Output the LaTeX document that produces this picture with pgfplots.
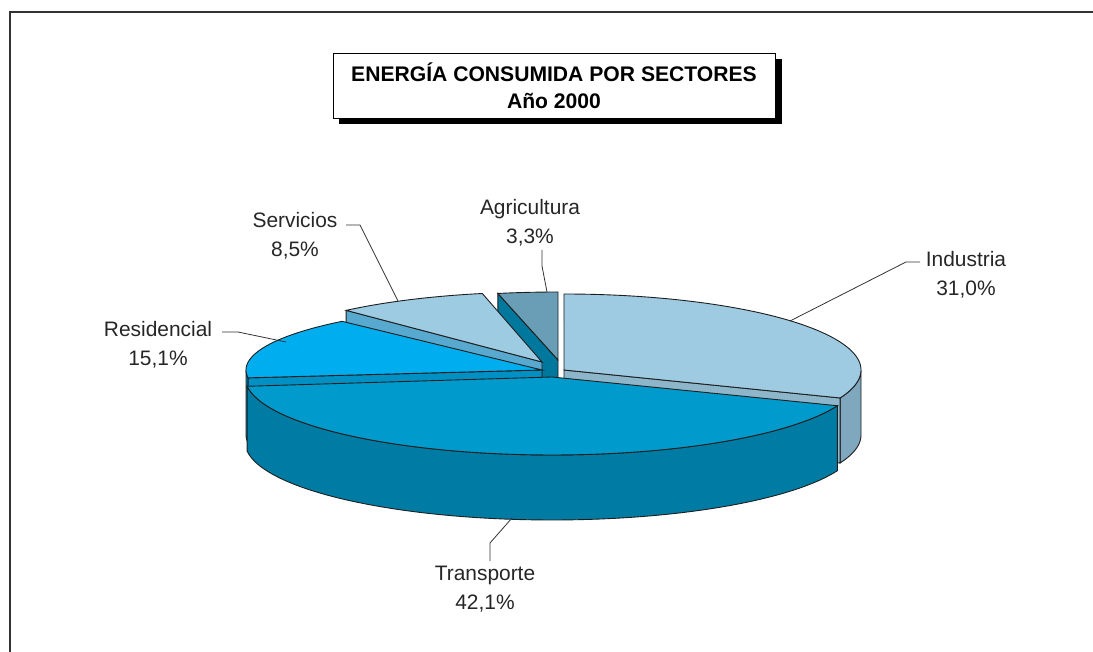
\documentclass[border=0pt]{standalone}
\usepackage{fontspec}
\setmainfont{Liberation Sans}
\usepackage{pgfplots}
\pgfplotsset{compat=1.18}
\usepgfplotslibrary{fillbetween}
\usepackage{pgfplotstable}

\definecolor{edge}{HTML}{1E1E1E}
\definecolor{lead}{HTML}{333333}
\definecolor{indTop}{HTML}{9ECBE2}
\definecolor{indWall}{HTML}{7FA8BE}
\definecolor{indFace}{HTML}{8DB6CA}
\definecolor{traTop}{HTML}{009BCC}
\definecolor{traWall}{HTML}{007CA4}
\definecolor{resTop}{HTML}{00ADEE}
\definecolor{resWall}{HTML}{0086B5}
\definecolor{resFace}{HTML}{0090C4}
\definecolor{serTop}{HTML}{9DCBE2}
\definecolor{serFace}{HTML}{58A9CF}
\definecolor{agrTop}{HTML}{6A9DB6}
\definecolor{agrFace}{HTML}{00779D}

\pgfplotstableread{
sector value
Industria 31.0
Transporte 42.1
Residencial 15.1
Servicios 8.5
Agricultura 3.3
}\sectors

% top face: cx cy rx ry a b color
\newcommand\topface[7]{%
  \addplot[fill=#7, draw=edge, line width=0.9pt, domain=#5:#6, samples=80, variable=\t]
    ({#1+#3*cos(\t)},{#2-#4*sin(\t)}) -- (axis cs:#1,#2) -- cycle;}
% wall: cx cy rx ry a b h color id
\newcommand\wall[9]{%
  \addplot[draw=none, name path=wt#9, domain=#5:#6, samples=60, variable=\t]
    ({#1+#3*cos(\t)},{#2-#4*sin(\t)});
  \addplot[draw=none, name path=wb#9, domain=#5:#6, samples=60, variable=\t]
    ({#1+#3*cos(\t)},{#2+#7-#4*sin(\t)});
  \addplot[fill=#8, draw=edge, line width=0.9pt] fill between[of=wt#9 and wb#9, on layer=main];}

\begin{document}
\begin{tikzpicture}
\pgfplotstablegetelem{0}{value}\of\sectors \let\vI\pgfplotsretval
\pgfplotstablegetelem{1}{value}\of\sectors \let\vT\pgfplotsretval
\pgfplotstablegetelem{2}{value}\of\sectors \let\vR\pgfplotsretval
\pgfplotstablegetelem{3}{value}\of\sectors \let\vS\pgfplotsretval
\pgfplotstablegetelem{4}{value}\of\sectors \let\vA\pgfplotsretval
% angles, clockwise from 12 o'clock
\pgfmathsetmacro\bI{90}
\pgfmathsetmacro\aI{\bI-3.6*\vI}
\pgfmathsetmacro\bT{\aI}
\pgfmathsetmacro\aT{\bT-3.6*\vT}
\pgfmathsetmacro\bR{\aT}
\pgfmathsetmacro\aR{\bR-3.6*\vR}
\pgfmathsetmacro\bS{\aR}
\pgfmathsetmacro\aS{\bS-3.6*\vS}
\pgfmathsetmacro\bA{\aS}
\pgfmathsetmacro\aA{\bA-3.6*\vA}
\def\H{65}
% slice geometry (exploded centres, perspective-like radii)
\def\cxI{564}\def\cyI{370}\def\rxI{297}\def\ryI{76}
\def\cxT{552}\def\cyT{377}\def\rxT{307}\def\ryT{78}
\def\cxR{542}\def\cyR{370}\def\rxR{296}\def\ryR{66}
\def\cxS{542}\def\cyS{362}\def\rxS{290}\def\ryS{70}
\def\cxA{558}\def\cyA{360}\def\rxA{292}\def\ryA{68}
% radial face corners
\pgfmathsetmacro\fIx{\cxI+\rxI*cos(\aI)}\pgfmathsetmacro\fIy{\cyI-\ryI*sin(\aI)}
\pgfmathsetmacro\fIyb{\fIy+\H}\pgfmathsetmacro\cyIb{\cyI+\H}
\pgfmathsetmacro\fRx{\cxR+\rxR*cos(\bR)}\pgfmathsetmacro\fRy{\cyR-\ryR*sin(\bR)}
\pgfmathsetmacro\fRyb{\fRy+\H}\pgfmathsetmacro\cyRb{\cyR+\H}
\pgfmathsetmacro\fSx{\cxS+\rxS*cos(\bS)}\pgfmathsetmacro\fSy{\cyS-\ryS*sin(\bS)}
\pgfmathsetmacro\fSyb{\fSy+\H}\pgfmathsetmacro\cySb{\cyS+\H}
\pgfmathsetmacro\fAx{\cxA+\rxA*cos(\bA)}\pgfmathsetmacro\fAy{\cyA-\ryA*sin(\bA)}
\pgfmathsetmacro\fAyb{\fAy+\H}\pgfmathsetmacro\cyAb{\cyA+\H}

\begin{axis}[
  at={(0,0)}, anchor=south west,
  width=1093bp, height=652bp, scale only axis,
  xmin=0, xmax=1093, ymin=0, ymax=652, y dir=reverse,
  hide axis, clip=false,
]
% frame
\addplot[draw=lead, line width=2.2bp] coordinates {(10,652) (10,12) (1093,12)};

% title box
\fill[black] (axis cs:339,59) rectangle (axis cs:782,124);
\filldraw[fill=white, draw=black, line width=0.8bp] (axis cs:333,53) rectangle (axis cs:775,118);
\node[align=center, font=\fontsize{21.2}{27}\selectfont\bfseries] at (axis cs:554,86)
  {ENERGÍA CONSUMIDA POR SECTORES\\Año 2000};

% Agricultura (back)
\addplot[fill=agrFace, draw=edge, line width=0.9pt] coordinates
  {(\cxA,\cyA) (\fAx,\fAy) (\fAx,\fAyb) (\cxA,\cyAb)} -- cycle;
\topface{\cxA}{\cyA}{\rxA}{\ryA}{\aA}{\bA}{agrTop}
% Servicios
\addplot[fill=serFace, draw=edge, line width=0.9pt] coordinates
  {(\cxS,\cyS) (\fSx,\fSy) (\fSx,\fSyb) (\cxS,\cySb)} -- cycle;
\topface{\cxS}{\cyS}{\rxS}{\ryS}{\aS}{\bS}{serTop}
% Industria
\wall{\cxI}{\cyI}{\rxI}{\ryI}{\aI}{0}{\H}{indWall}{I}
\addplot[fill=indFace, draw=edge, line width=0.9pt] coordinates
  {(\cxI,\cyI) (\fIx,\fIy) (\fIx,\fIyb) (\cxI,\cyIb)} -- cycle;
\topface{\cxI}{\cyI}{\rxI}{\ryI}{\aI}{\bI}{indTop}
% Residencial
\wall{\cxR}{\cyR}{\rxR}{\ryR}{-180}{\bR}{\H}{resWall}{R}
\addplot[fill=resFace, draw=edge, line width=0.9pt] coordinates
  {(\cxR,\cyR) (\fRx,\fRy) (\fRx,\fRyb) (\cxR,\cyRb)} -- cycle;
\topface{\cxR}{\cyR}{\rxR}{\ryR}{\aR}{\bR}{resTop}
% Transporte (front)
\wall{\cxT}{\cyT}{\rxT}{\ryT}{\aT}{\bT}{\H}{traWall}{T}
\topface{\cxT}{\cyT}{\rxT}{\ryT}{\aT}{\bT}{traTop}

% leader lines
\addplot[draw=lead, line width=0.8bp] coordinates {(542,250) (542,266) (547,292)};
\addplot[draw=lead, line width=0.8bp] coordinates {(346,225) (360,225) (398,301)};
\addplot[draw=lead, line width=0.8bp] coordinates {(222,332) (238,332) (286,342)};
\addplot[draw=lead, line width=0.8bp] coordinates {(920,262) (906,262) (790,321)};
\addplot[draw=lead, line width=0.8bp] coordinates {(490,561) (490,543) (512,518)};

% labels
\begin{scope}[every node/.style={align=center, font=\fontsize{21}{29}\selectfont, text=black!85}]
\node at (axis cs:530,223) {Agricultura\\3,3\%};
\node at (axis cs:295,236) {Servicios\\8,5\%};
\node at (axis cs:158,345) {Residencial\\15,1\%};
\node at (axis cs:966,275) {Industria\\31,0\%};
\node at (axis cs:485,589) {Transporte\\42,1\%};
\end{scope}
\end{axis}
\pgfresetboundingbox
\path[use as bounding box] (0,0) rectangle (1093bp,652bp);
\end{tikzpicture}
\end{document}
